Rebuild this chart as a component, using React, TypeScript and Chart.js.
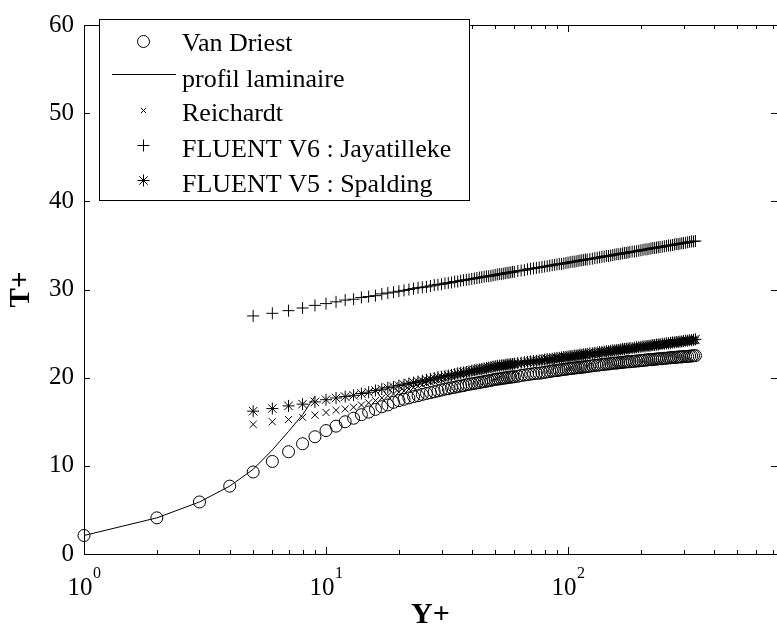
import { useEffect, useRef } from 'react';
import { Chart, registerables } from 'chart.js';

Chart.register(...registerables);

const FONT = "'Liberation Serif', 'Times New Roman', Times, serif";

// Wall distance y+ of each computed cell
const yPlus = [
  1, 2, 3, 4, 5, 6, 7, 8, 9, 10, 11, 12, 13, 14, 15, 16, 17, 18, 19, 20,
  21, 22, 23, 24, 25, 26, 27, 28, 29, 30, 31, 32, 33, 34, 35, 36, 37, 38, 39, 40,
  41, 42, 43, 44, 45, 46, 47, 48, 49, 50, 51, 52, 53, 54, 55, 56, 57, 58, 59, 60,
  62, 64, 66, 68, 70, 72, 74, 76, 78, 80, 82, 84, 86, 88, 90,
  92, 94, 96, 98, 100, 102, 104, 106, 108, 110, 112, 114, 116, 118, 120,
  123, 126, 129, 132, 135, 138, 141, 144, 147, 150,
  153, 156, 159, 162, 165, 168, 171, 174, 177, 180,
  184, 188, 192, 196, 200, 204, 208, 212, 216, 220, 224, 228, 232, 236, 240,
  245, 250, 255, 260, 265, 270, 275, 280, 285, 290, 295, 300,
  306, 312, 318, 324, 330, 336,
];

// Van Driest profile, T+ at every y+ above
const vanDriest = [
  2.1, 4.1, 5.9, 7.7, 9.3, 10.5, 11.6, 12.5, 13.3, 14.0, 14.5, 15.0, 15.4, 15.8, 16.1, 16.4, 16.7, 16.9, 17.2, 17.4,
  17.55, 17.7, 17.85, 17.95, 18.1, 18.2, 18.3, 18.4, 18.5, 18.6, 18.7, 18.75, 18.85, 18.9, 19.0, 19.05, 19.1, 19.2, 19.25, 19.3,
  19.35, 19.4, 19.45, 19.5, 19.55, 19.6, 19.65, 19.7, 19.75, 19.8, 19.85, 19.85, 19.9, 19.95, 19.95, 20.0, 20.05, 20.05, 20.1, 20.1,
  20.15, 20.25, 20.3, 20.35, 20.4, 20.45, 20.5, 20.5, 20.55, 20.6, 20.65, 20.7, 20.75, 20.8, 20.8,
  20.85, 20.9, 20.95, 20.95, 21.0, 21.05, 21.05, 21.1, 21.1, 21.15, 21.15, 21.2, 21.2, 21.25, 21.25,
  21.3, 21.35, 21.4, 21.4, 21.45, 21.5, 21.5, 21.55, 21.55, 21.6,
  21.65, 21.65, 21.65, 21.7, 21.7, 21.75, 21.75, 21.8, 21.8, 21.8,
  21.85, 21.85, 21.9, 21.9, 21.95, 21.95, 22.0, 22.0, 22.05, 22.05, 22.05, 22.1, 22.1, 22.15, 22.15,
  22.15, 22.2, 22.2, 22.25, 22.25, 22.3, 22.3, 22.3, 22.35, 22.35, 22.35, 22.4,
  22.4, 22.4, 22.45, 22.45, 22.5, 22.5,
];

// Laminar sublayer profile
const laminarY = [1, 2, 3, 4, 5, 6, 7, 8, 9];
const laminarT = [2.1, 4.1, 5.9, 7.7, 9.6, 11.8, 13.9, 15.8, 17.9];

// Wall-function laws start at the fifth cell (y+ = 5)
const fluentY = yPlus.slice(4);

const reichardt = [
  14.7, 15.0, 15.25, 15.5, 15.75, 16.05, 16.3, 16.45, 16.65, 16.9, 17.15, 17.4, 17.7, 17.95, 18.15, 18.35,
  18.5, 18.7, 18.9, 19.05, 19.2, 19.35, 19.5, 19.6, 19.7, 19.8, 19.9, 20.0, 20.1, 20.2, 20.3, 20.35, 20.45, 20.5, 20.6, 20.65,
  20.7, 20.75, 20.8, 20.85, 20.95, 21.0, 21.05, 21.1, 21.15, 21.2, 21.25, 21.25, 21.3, 21.3, 21.35, 21.4, 21.4, 21.45, 21.45, 21.5,
  21.55, 21.6, 21.65, 21.7, 21.75, 21.8, 21.8, 21.85, 21.9, 21.95, 22.0, 22.0, 22.05, 22.1, 22.15,
  22.15, 22.2, 22.25, 22.25, 22.3, 22.35, 22.35, 22.4, 22.4, 22.45, 22.5, 22.5, 22.55, 22.55, 22.6,
  22.65, 22.65, 22.7, 22.75, 22.8, 22.8, 22.85, 22.9, 22.9, 22.95,
  23.0, 23.0, 23.05, 23.05, 23.1, 23.15, 23.15, 23.2, 23.2, 23.25,
  23.25, 23.3, 23.35, 23.35, 23.4, 23.45, 23.45, 23.5, 23.5, 23.55, 23.6, 23.6, 23.65, 23.65, 23.7,
  23.75, 23.75, 23.8, 23.8, 23.85, 23.9, 23.9, 23.95, 23.95, 24.0, 24.0, 24.05,
  24.1, 24.1, 24.15, 24.15, 24.2, 24.25,
];

const jayatilleke = [
  27.0, 27.3, 27.6, 27.9, 28.2, 28.4, 28.6, 28.8, 28.9, 29.1, 29.2, 29.3, 29.5, 29.6, 29.7, 29.8,
  29.9, 30.0, 30.1, 30.2, 30.25, 30.3, 30.4, 30.5, 30.55, 30.6, 30.7, 30.75, 30.8, 30.9, 30.9, 31.0, 31.05, 31.1, 31.15, 31.2,
  31.25, 31.3, 31.35, 31.4, 31.45, 31.5, 31.5, 31.55, 31.6, 31.65, 31.7, 31.75, 31.75, 31.8, 31.85, 31.9, 31.9, 31.95, 32.0, 32.0,
  32.1, 32.15, 32.2, 32.3, 32.35, 32.4, 32.45, 32.5, 32.55, 32.6, 32.65, 32.7, 32.75, 32.8, 32.85,
  32.9, 32.9, 32.95, 33.0, 33.05, 33.1, 33.15, 33.15, 33.2, 33.25, 33.3, 33.3, 33.35, 33.4, 33.4,
  33.45, 33.5, 33.55, 33.6, 33.65, 33.7, 33.75, 33.8, 33.8, 33.85,
  33.9, 33.95, 34.0, 34.0, 34.05, 34.1, 34.15, 34.15, 34.2, 34.25,
  34.3, 34.3, 34.35, 34.4, 34.45, 34.5, 34.55, 34.55, 34.6, 34.65, 34.7, 34.7, 34.75, 34.8, 34.8,
  34.85, 34.9, 34.95, 35.0, 35.0, 35.05, 35.1, 35.15, 35.15, 35.2, 35.25, 35.25,
  35.3, 35.35, 35.4, 35.45, 35.45, 35.5,
];

const spalding = [
  16.2, 16.5, 16.8, 17.0, 17.25, 17.5, 17.7, 17.85, 18.0, 18.2, 18.35, 18.55, 18.7, 18.85, 18.95, 19.1,
  19.2, 19.35, 19.45, 19.55, 19.65, 19.75, 19.85, 19.95, 20.05, 20.1, 20.2, 20.25, 20.3, 20.4, 20.5, 20.55, 20.6, 20.65, 20.7, 20.8,
  20.85, 20.9, 20.95, 21.0, 21.05, 21.1, 21.15, 21.2, 21.25, 21.3, 21.35, 21.35, 21.4, 21.4, 21.45, 21.5, 21.5, 21.55, 21.55, 21.6,
  21.65, 21.7, 21.75, 21.8, 21.85, 21.9, 21.9, 21.95, 22.0, 22.05, 22.1, 22.1, 22.15, 22.2, 22.25,
  22.25, 22.3, 22.35, 22.35, 22.4, 22.45, 22.45, 22.5, 22.5, 22.55, 22.6, 22.6, 22.65, 22.65, 22.7,
  22.75, 22.75, 22.8, 22.85, 22.9, 22.9, 22.95, 23.0, 23.0, 23.05,
  23.1, 23.1, 23.15, 23.15, 23.2, 23.25, 23.25, 23.3, 23.3, 23.35,
  23.35, 23.4, 23.45, 23.45, 23.5, 23.55, 23.55, 23.6, 23.6, 23.65, 23.7, 23.7, 23.75, 23.75, 23.8,
  23.85, 23.85, 23.9, 23.9, 23.95, 24.0, 24.0, 24.05, 24.05, 24.1, 24.1, 24.15,
  24.2, 24.2, 24.25, 24.25, 24.3, 24.35,
];

// Axis limits and ticks
const X_MIN = 1;
const X_MAX = 730;
const Y_MIN = 0;
const Y_MAX = 60;
const yTickValues = [0, 10, 20, 30, 40, 50, 60];
const xDecades = [1, 10, 100];
const xDecadeExponents = ['0', '1', '2'];

const legendLabels = [
  'Van Driest',
  'profil laminaire',
  'Reichardt',
  'FLUENT V6 : Jayatilleke',
  'FLUENT V5 : Spalding',
];
const legendSymbols = ['circle', 'line', 'crossRot', 'cross', 'star'];

const toPoints = (xs: number[], ys: number[]) => ys.map((t, i) => ({ x: xs[i], y: t }));

function strokeLine(ctx: CanvasRenderingContext2D, x1: number, y1: number, x2: number, y2: number) {
  ctx.beginPath();
  ctx.moveTo(x1, y1);
  ctx.lineTo(x2, y2);
  ctx.stroke();
}

function drawSymbol(ctx: CanvasRenderingContext2D, kind: string, x: number, y: number) {
  ctx.beginPath();
  if (kind === 'circle') {
    ctx.arc(x, y, 6, 0, Math.PI * 2);
  } else if (kind === 'crossRot') {
    const d = 2.6;
    ctx.moveTo(x - d, y - d); ctx.lineTo(x + d, y + d);
    ctx.moveTo(x + d, y - d); ctx.lineTo(x - d, y + d);
  } else if (kind === 'cross') {
    ctx.moveTo(x - 6, y); ctx.lineTo(x + 6, y);
    ctx.moveTo(x, y - 6); ctx.lineTo(x, y + 6);
  } else if (kind === 'star') {
    const d = 4.2;
    ctx.moveTo(x - 6, y); ctx.lineTo(x + 6, y);
    ctx.moveTo(x, y - 6); ctx.lineTo(x, y + 6);
    ctx.moveTo(x - d, y - d); ctx.lineTo(x + d, y + d);
    ctx.moveTo(x + d, y - d); ctx.lineTo(x - d, y + d);
  } else if (kind === 'line') {
    ctx.moveTo(112, y); ctx.lineTo(176, y);
  }
  ctx.stroke();
}

// Box frame with inward ticks on all four sides, plus the 10^n labels
const framePlugin = {
  id: 'frameTicks',
  afterDraw(chart: any) {
    const { ctx, chartArea } = chart;
    const { left, right, top, bottom } = chartArea;
    const xs = chart.scales.x;
    const ys = chart.scales.y;
    ctx.save();
    ctx.strokeStyle = '#000';
    ctx.lineWidth = 1;
    ctx.strokeRect(left + 0.5, top + 0.5, right - left, bottom - top);

    for (const v of yTickValues) {
      const py = Math.round(ys.getPixelForValue(v)) + 0.5;
      strokeLine(ctx, left, py, left + 6, py);
      strokeLine(ctx, right, py, right - 6, py);
    }

    for (const d of xDecades) {
      for (let m = 1; m <= 9; m++) {
        const v = d * m;
        if (v > X_MAX) break;
        const px = Math.round(xs.getPixelForValue(v)) + 0.5;
        const len = m === 1 ? 7 : 4;
        strokeLine(ctx, px, bottom, px, bottom - len);
        strokeLine(ctx, px, top, px, top + len);
      }
    }

    ctx.fillStyle = '#000';
    ctx.textBaseline = 'alphabetic';
    ctx.textAlign = 'left';
    xDecades.forEach((d, i) => {
      const px = xs.getPixelForValue(d);
      ctx.font = `25px ${FONT}`;
      const wBase = ctx.measureText('10').width;
      ctx.font = `16px ${FONT}`;
      const wExp = ctx.measureText(xDecadeExponents[i]).width;
      const sx = px - (wBase + wExp) / 2;
      ctx.font = `25px ${FONT}`;
      ctx.fillText('10', sx, 595);
      ctx.font = `16px ${FONT}`;
      ctx.fillText(xDecadeExponents[i], sx + wBase + 0.5, 578);
    });
    ctx.restore();
  },
};

// Boxed legend in the upper-left corner of the axes
const legendPlugin = {
  id: 'boxLegend',
  afterDraw(chart: any) {
    const { ctx } = chart;
    const markerY = [41.5, 74.5, 110.5, 145.5, 180.5];
    const textY = [50.5, 86.5, 121, 156.5, 191.5];
    ctx.save();
    ctx.fillStyle = '#fff';
    ctx.fillRect(99, 19, 370, 181);
    ctx.strokeStyle = '#000';
    ctx.lineWidth = 1;
    ctx.strokeRect(99.5, 19.5, 370, 181);
    legendSymbols.forEach((s, i) => drawSymbol(ctx, s, 143.5, markerY[i]));
    ctx.fillStyle = '#000';
    ctx.font = `26px ${FONT}`;
    ctx.textAlign = 'left';
    ctx.textBaseline = 'alphabetic';
    legendLabels.forEach((t, i) => ctx.fillText(t, 182, textY[i]));
    ctx.restore();
  },
};

export default function App() {
  const canvasRef = useRef<HTMLCanvasElement>(null);

  useEffect(() => {
    if (!canvasRef.current) return;
    const chart = new Chart(canvasRef.current, {
      type: 'scatter',
      data: {
        datasets: [
          {
            label: 'Van Driest',
            data: toPoints(yPlus, vanDriest),
            pointStyle: 'circle',
            pointRadius: 6,
            pointBorderWidth: 1,
            borderColor: '#000',
            backgroundColor: 'rgba(0,0,0,0)',
            showLine: false,
            clip: false,
          },
          {
            label: 'profil laminaire',
            data: toPoints(laminarY, laminarT),
            showLine: true,
            pointRadius: 0,
            borderColor: '#000',
            borderWidth: 1,
            tension: 0,
            clip: false,
          },
          {
            label: 'Reichardt',
            data: toPoints(fluentY, reichardt),
            pointStyle: 'crossRot',
            pointRadius: 5,
            pointBorderWidth: 1,
            borderColor: '#000',
            backgroundColor: '#000',
            showLine: false,
            clip: false,
          },
          {
            label: 'FLUENT V6 : Jayatilleke',
            data: toPoints(fluentY, jayatilleke),
            pointStyle: 'cross',
            pointRadius: 6,
            pointBorderWidth: 1,
            borderColor: '#000',
            backgroundColor: '#000',
            showLine: false,
            clip: false,
          },
          {
            label: 'FLUENT V5 : Spalding',
            data: toPoints(fluentY, spalding),
            pointStyle: 'star',
            pointRadius: 6,
            pointBorderWidth: 1,
            borderColor: '#000',
            backgroundColor: '#000',
            showLine: false,
            clip: false,
          },
        ],
      },
      options: {
        responsive: false,
        devicePixelRatio: 1,
        animation: false,
        events: [],
        layout: { autoPadding: false, padding: { top: 16, left: 0, right: 0, bottom: 0 } },
        plugins: {
          legend: { display: false },
          tooltip: { enabled: false },
        },
        scales: {
          x: {
            type: 'logarithmic',
            position: 'bottom',
            min: X_MIN,
            max: X_MAX,
            grid: { display: false, drawTicks: false },
            border: { display: false },
            ticks: { display: false },
            title: {
              display: true,
              text: 'Y+',
              color: '#000',
              font: { family: FONT, size: 30, weight: 'bold', lineHeight: 1 },
              padding: { top: 0, bottom: 1 },
            },
            afterFit: (scale: any) => {
              scale.height = 77;
            },
          },
          y: {
            type: 'linear',
            min: Y_MIN,
            max: Y_MAX,
            grid: { display: false, drawTicks: false },
            border: { display: false },
            ticks: {
              stepSize: 10,
              color: '#000',
              padding: 10,
              font: { family: FONT, size: 25 },
            },
            title: {
              display: true,
              text: 'T+',
              color: '#000',
              font: { family: FONT, size: 29, weight: 'bold', lineHeight: 1 },
              padding: { top: 7, bottom: 0 },
            },
            afterFit: (scale: any) => {
              scale.width = 84;
            },
          },
        },
      },
      plugins: [framePlugin, legendPlugin],
    } as any);
    return () => chart.destroy();
  }, []);

  return (
    <div style={{ position: 'absolute', left: 0, top: 0, width: 777, height: 631, background: '#fff' }}>
      <canvas ref={canvasRef} width={777} height={631} style={{ display: 'block' }} />
    </div>
  );
}
